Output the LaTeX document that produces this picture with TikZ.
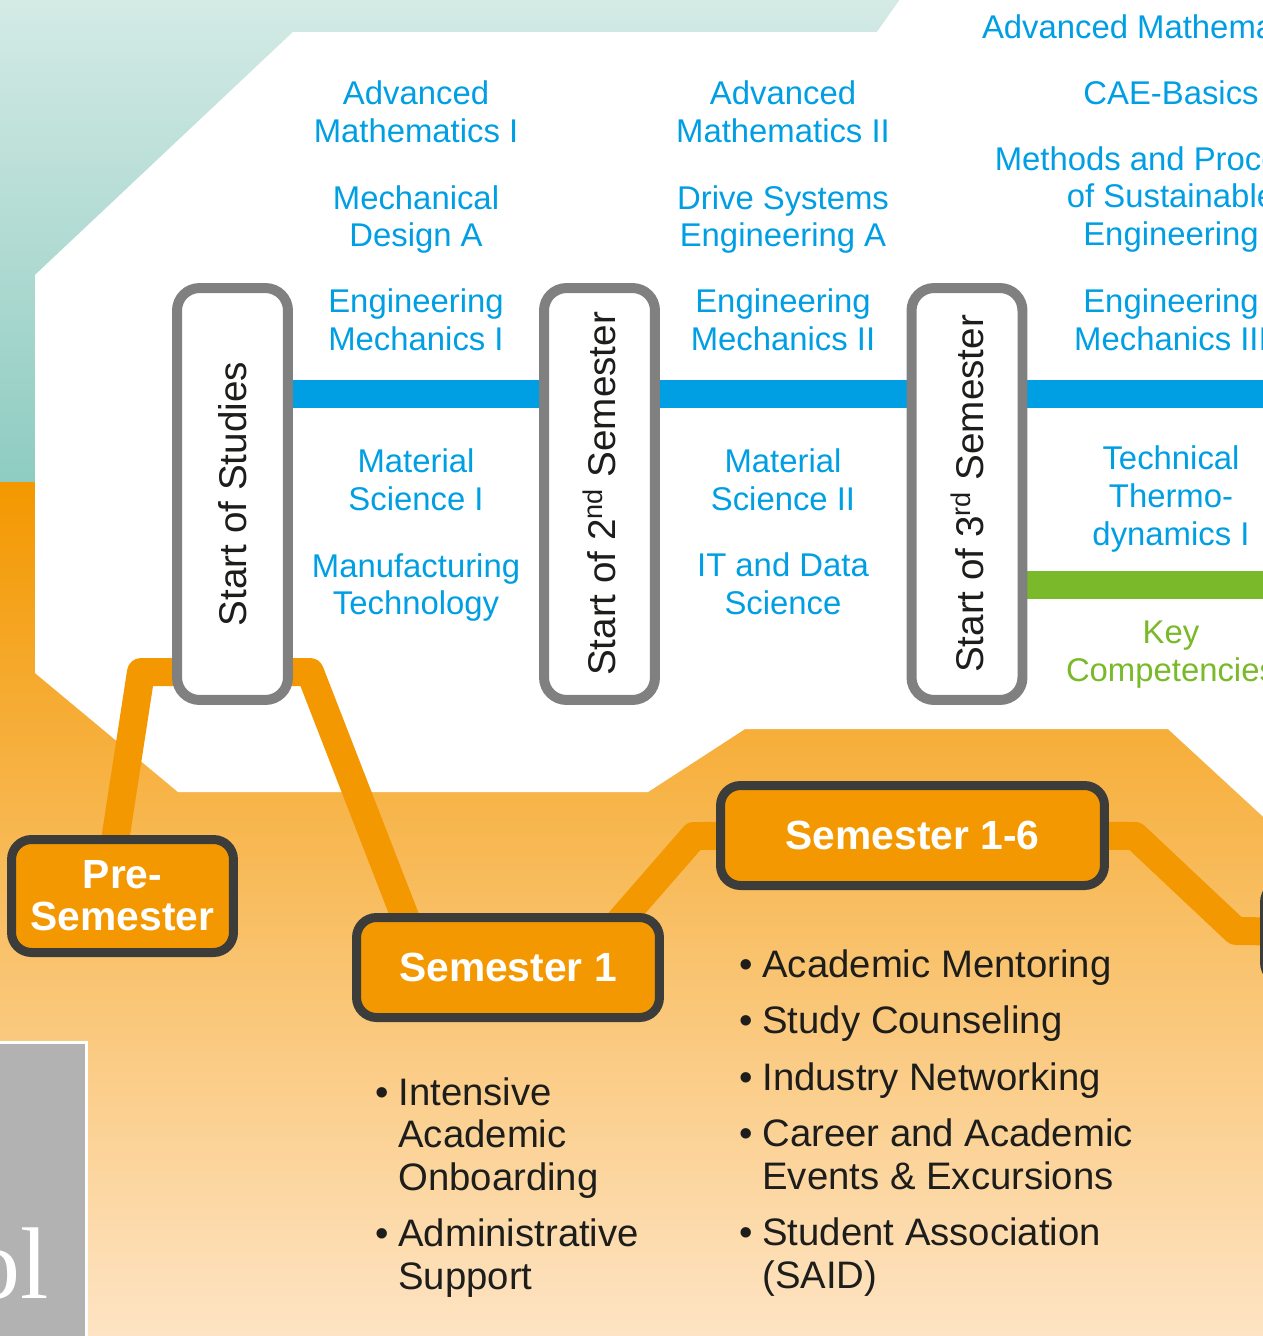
\documentclass[tikz,border=0pt]{standalone}
\usepackage{fontspec}
\setsansfont{Liberation Sans}
\newfontfamily\serifword{Liberation Serif}
\usepackage{xcolor}
\usepackage{tikz}

\definecolor{tealtop}{HTML}{D4EAE5}
\definecolor{tealbot}{HTML}{8ECCC1}
\definecolor{orangetop}{HTML}{F39800}
\definecolor{orangebot}{HTML}{FEE4C4}
\definecolor{trackorange}{HTML}{F39800}
\definecolor{courseblue}{HTML}{009FE3}
\definecolor{keygreen}{HTML}{7AB929}
\definecolor{framegray}{HTML}{808080}
\definecolor{framedark}{HTML}{3C3C3B}
\definecolor{textdark}{HTML}{1D1D1B}
\definecolor{boxgray}{HTML}{B2B2B2}

\pgfdeclarelayer{bg}
\pgfdeclarelayer{tracks}
\pgfsetlayers{bg,tracks,main}

\begin{document}
\begin{tikzpicture}[
    x=0.02cm, y=-0.02cm,
    font=\sffamily,
    course/.style={text=courseblue, align=center, inner sep=0pt, font=\sffamily\fontsize{18.7}{21.5}\selectfont},
    keycomp/.style={course, text=keygreen},
    semstart/.style={draw=framegray, line width=0.2cm, fill=white, rounded corners=0.45cm, rotate=90,
        minimum width=8.24cm, minimum height=2.22cm, text=textdark, font=\sffamily\fontsize{22}{26}\selectfont},
    stage/.style={draw=framedark, line width=0.18cm, fill=trackorange, rounded corners=0.4cm, text=white,
        align=center, minimum height=2cm, font=\sffamily\bfseries\fontsize{23.2}{23.8}\selectfont},
    track/.style={draw=trackorange, line width=0.56cm, line join=round},
    bar/.style={line width=0.56cm},
    bullets/.style={text=textdark, inner sep=0pt, anchor=base west, font=\sffamily\fontsize{21.8}{24.2}\selectfont}
]
    \useasboundingbox (0,0) rectangle (1263,1336);
    \clip (0,0) rectangle (1263,1336);

    % Background
    \begin{pgfonlayer}{bg}
        \fill[top color=tealtop, bottom color=tealbot] (0,0) rectangle (1263,482);
        \fill[top color=orangetop, bottom color=orangebot] (0,482) rectangle (1263,1336);
        \fill[white] (35,275) -- (293,32) -- (877,32) -- (903,-5) -- (1270,-5) -- (1270,823)
            -- (1168,729) -- (745,729) -- (648,792) -- (178,792) -- (35,673) -- cycle;
        \filldraw[fill=boxgray, draw=white, line width=0.06cm] (-10,1042) rectangle (86,1350);
    \end{pgfonlayer}
    \node[text=white, inner sep=0pt, anchor=base east, font=\serifword\fontsize{58}{60}\selectfont] (schoolword) at (49,1298) {ol};

    % Semester starts
    \node[semstart] (studies) at (232.5,494) {Start of Studies};
    \node[semstart] (sem2) at (599.5,494) {Start of 2\textsuperscript{nd} Semester};
    \node[semstart] (sem3) at (967,494) {Start of 3\textsuperscript{rd} Semester};

    % Stages
    \node[stage, minimum width=4.44cm, minimum height=2.26cm] (pre) at (122.5,896) {Pre-\\Semester};
    \node[stage, minimum width=6.06cm] (sem1) at (508,967.5) {Semester 1};
    \node[stage, minimum width=7.68cm] (sem16) at (912.5,835.5) {Semester 1-6};
    \node[stage, minimum width=4cm] (nxt) at (1364.5,932.5) {};

    % Bars and tracks
    \coordinate (barend) at (1263,394);
    \coordinate (keyend) at (1263,584.5);
    \begin{pgfonlayer}{tracks}
        \draw[bar, courseblue] (barend -| studies.center) -- (barend);
        \draw[bar, keygreen] (keyend -| sem3.center) -- (keyend);
        \draw[track] ([xshift=-0.24cm, yshift=-0.7cm]pre.north) -- (141,672) -- (310,672)
            -- ([xshift=-1.88cm, yshift=-0.54cm]sem1.north);
        \draw[track] ([xshift=1.91cm, yshift=-0.54cm]sem1.north) -- (694,836) -- (sem16);
        \draw[track] (sem16) -- (1135,836) -- (1236,931) -- (nxt);
    \end{pgfonlayer}

    % Courses, first semester
    \node[course] (am1) at (416,112) {Advanced\\Mathematics I};
    \node[course] (md1) at (416,219.5) {Mechanical\\Design A};
    \node[course] (em1) at (416,320) {Engineering\\Mechanics I};
    \node[course] (ms1) at (416,480) {Material\\Science I};
    \node[course] (mt1) at (416,587.5) {Manufacturing\\Technology};

    % Courses, second semester
    \node[course] (am2) at (783,112) {Advanced\\Mathematics II};
    \node[course] (ds2) at (783,219.5) {Drive Systems\\Engineering A};
    \node[course] (em2) at (783,320) {Engineering\\Mechanics II};
    \node[course] (ms2) at (783,480) {Material\\Science II};
    \node[course] (it2) at (783,584) {IT and Data\\Science};

    % Courses, third semester
    \node[course] (am3) at (1171,27) {Advanced Mathematics III};
    \node[course] (cae3) at (1171,93) {CAE-Basics};
    \node[course] (mps3) at (1171,199.5) {Methods and Processes\\of Sustainable\\Engineering};
    \node[course] (em3) at (1171,320) {Engineering\\Mechanics III};
    \node[course] (td3) at (1171,499) {Technical\\Thermo-\\dynamics I};
    \node[keycomp] (key3) at (1171,654.5) {Key\\Competencies};

    % Support offers
    \node[bullets] (sem1list) at (375,1105) {\begin{tabular}[t]{@{}l@{\hspace{5.5pt}}l@{}}
        \textbullet & Intensive\\
                    & Academic\\
                    & Onboarding\\[8pt]
        \textbullet & Administrative\\
                    & Support
    \end{tabular}};
    \node[bullets] (sem16list) at (739,977) {\begin{tabular}[t]{@{}l@{\hspace{5.5pt}}l@{}}
        \textbullet & Academic Mentoring\\[8pt]
        \textbullet & Study Counseling\\[8pt]
        \textbullet & Industry Networking\\[8pt]
        \textbullet & Career and Academic\\
                    & Events \& Excursions\\[8pt]
        \textbullet & Student Association\\
                    & (SAID)
    \end{tabular}};

\end{tikzpicture}
\end{document}
